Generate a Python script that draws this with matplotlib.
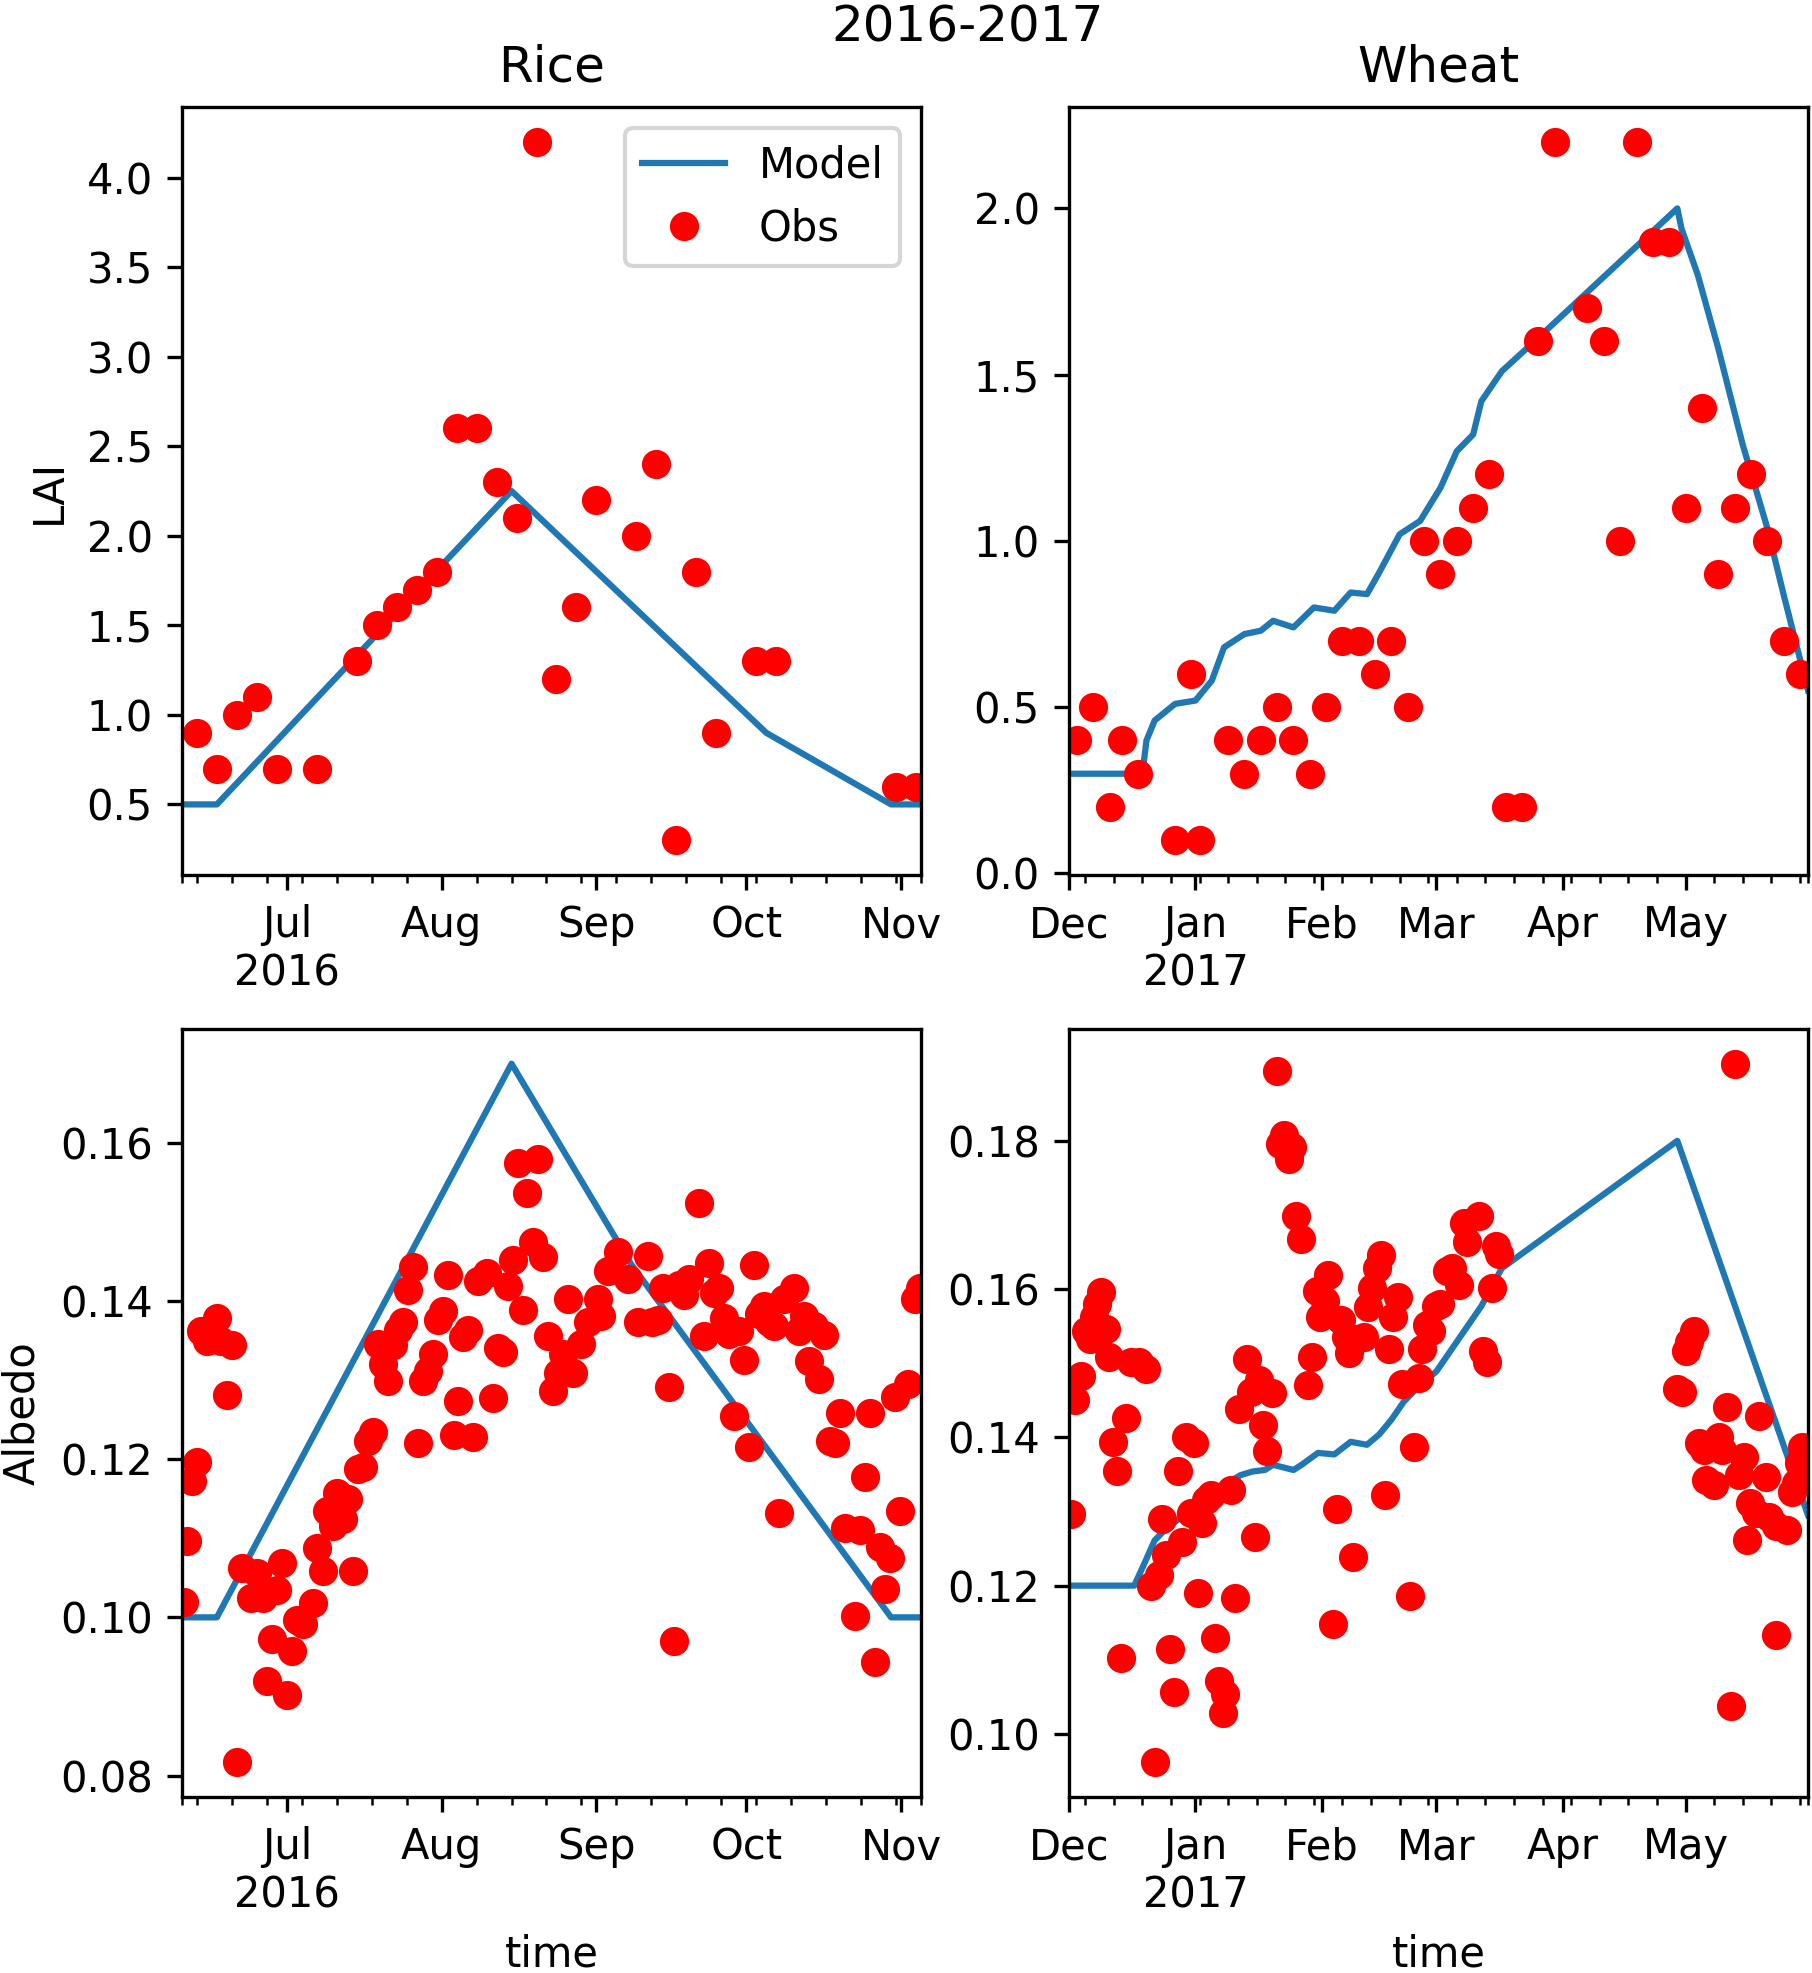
import pandas as pd
import matplotlib
matplotlib.use("Agg")
import matplotlib.pyplot as plt
import matplotlib.dates as mdates
from matplotlib.ticker import FixedLocator, FuncFormatter

# --- Rice season (2016) ---
rice_start, rice_end = "2016-06-10", "2016-11-05"

rice_lai_model_t = ["2016-06-10", "2016-06-17", "2016-08-15", "2016-10-05", "2016-10-30", "2016-11-05"]
rice_lai_model = [0.5, 0.5, 2.25, 0.9, 0.5, 0.5]

rice_lai_obs_t = ["2016-06-13", "2016-06-17", "2016-06-21", "2016-06-25", "2016-06-29", "2016-07-07",
                  "2016-07-15", "2016-07-19", "2016-07-23", "2016-07-27", "2016-07-31", "2016-08-04",
                  "2016-08-08", "2016-08-12", "2016-08-16", "2016-08-20", "2016-08-24", "2016-08-28",
                  "2016-09-01", "2016-09-09", "2016-09-13", "2016-09-17", "2016-09-21", "2016-09-25",
                  "2016-10-03", "2016-10-07", "2016-10-31", "2016-11-04"]
rice_lai_obs = [0.9, 0.7, 1.0, 1.1, 0.7, 0.7, 1.3, 1.5, 1.6, 1.7, 1.8, 2.6, 2.6, 2.3, 2.1, 4.2,
                1.2, 1.6, 2.2, 2.0, 2.4, 0.3, 1.8, 0.9, 1.3, 1.3, 0.6, 0.6]

rice_alb_model_t = ["2016-06-10", "2016-06-17", "2016-08-15", "2016-09-08", "2016-10-30", "2016-11-05"]
rice_alb_model = [0.100, 0.100, 0.170, 0.1446, 0.100, 0.100]

# albedo obs: days since rice_start
rice_alb_day = [0.4, 1.1, 2.0, 3.0, 3.8, 5.0, 7.0, 7.9, 9.0, 10.1, 11.0, 12.1, 13.9, 15.0, 16.2, 17.0,
                18.0, 19.1, 20.1, 21.1, 22.1, 23.1, 24.2, 26.2, 27.1, 28.2, 29.1, 30.2, 31.1, 32.2,
                33.2, 34.2, 35.2, 36.2, 37.2, 38.3, 39.2, 40.3, 41.2, 42.3, 43.2, 44.3, 45.2, 46.3,
                47.2, 48.3, 49.3, 50.3, 51.3, 52.3, 53.3, 54.4, 55.2, 56.2, 57.2, 58.2, 59.2, 61.1,
                62.2, 63.2, 64.2, 65.2, 66.2, 67.2, 68.3, 69.1, 70.3, 71.3, 72.3, 73.3, 74.3, 75.3,
                76.3, 77.3, 78.3, 80.0, 81.3, 83.4, 84.0, 85.4, 87.4, 89.4, 91.4, 93.4, 94.1, 95.4,
                96.4, 97.5, 98.5, 99.5, 100.5, 101.5, 103.5, 104.5, 105.5, 106.5, 107.5, 108.5, 109.5,
                110.5, 111.5, 112.5, 113.6, 114.6, 115.6, 116.6, 117.6, 118.6, 119.6, 120.6, 122.6,
                123.6, 124.6, 125.6, 126.6, 127.6, 128.6, 129.7, 130.7, 131.7, 132.7, 134.7, 135.7,
                136.7, 137.7, 138.7, 139.7, 140.7, 141.7, 142.7, 143.7, 145.4, 146.7, 147.7]
rice_alb_obs = [0.1019, 0.1097, 0.1172, 0.1196, 0.1362, 0.1349, 0.1379, 0.1349, 0.1281, 0.1344,
                0.0817, 0.1062, 0.1024, 0.1056, 0.1025, 0.0919, 0.0972, 0.1035, 0.1069, 0.0902,
                0.0957, 0.0997, 0.0991, 0.1018, 0.1088, 0.1059, 0.1134, 0.1116, 0.1157, 0.1124,
                0.1150, 0.1059, 0.1188, 0.1190, 0.1223, 0.1234, 0.1346, 0.1320, 0.1299, 0.1344,
                0.1363, 0.1374, 0.1414, 0.1443, 0.1220, 0.1299, 0.1312, 0.1333, 0.1376, 0.1387,
                0.1433, 0.1231, 0.1274, 0.1355, 0.1363, 0.1228, 0.1425, 0.1435, 0.1277, 0.1341,
                0.1335, 0.1419, 0.1452, 0.1575, 0.1388, 0.1537, 0.1475, 0.1579, 0.1456, 0.1356,
                0.1286, 0.1309, 0.1333, 0.1403, 0.1309, 0.1346, 0.1374, 0.1403, 0.1381, 0.1438,
                0.1462, 0.1428, 0.1374, 0.1457, 0.1374, 0.1376, 0.1416, 0.1291, 0.0970, 0.1420,
                0.1407, 0.1428, 0.1524, 0.1356, 0.1448, 0.1410, 0.1416, 0.1378, 0.1358, 0.1255,
                0.1362, 0.1325, 0.1216, 0.1446, 0.1383, 0.1394, 0.1374, 0.1368, 0.1132, 0.1403,
                0.1416, 0.1362, 0.1381, 0.1324, 0.1368, 0.1301, 0.1357, 0.1223, 0.1220, 0.1258,
                0.1113, 0.1002, 0.1110, 0.1178, 0.1258, 0.0944, 0.1089, 0.1036, 0.1075, 0.1279,
                0.1134, 0.1295, 0.1403, 0.1416]

# --- Wheat season (2016-2017) ---
wheat_start, wheat_end = "2016-12-01", "2017-05-31"

wheat_lai_model_t = ["2016-12-01", "2016-12-19", "2016-12-20", "2016-12-22", "2016-12-27", "2017-01-01",
                     "2017-01-05", "2017-01-08", "2017-01-13", "2017-01-17", "2017-01-20", "2017-01-25",
                     "2017-01-30", "2017-02-04", "2017-02-08", "2017-02-12", "2017-02-15", "2017-02-20",
                     "2017-02-25", "2017-03-02", "2017-03-06", "2017-03-10", "2017-03-12", "2017-03-17",
                     "2017-03-25", "2017-04-29", "2017-04-30", "2017-05-04", "2017-05-09", "2017-05-15",
                     "2017-05-21", "2017-05-25", "2017-05-31"]
wheat_lai_model = [0.30, 0.30, 0.40, 0.46, 0.51, 0.52, 0.58, 0.68, 0.72, 0.73, 0.76, 0.74, 0.80, 0.79,
                   0.845, 0.84, 0.905, 1.02, 1.06, 1.16, 1.27, 1.32, 1.42, 1.51, 1.60, 2.00, 1.94,
                   1.80, 1.58, 1.29, 1.04, 0.84, 0.55]

wheat_lai_obs_t = ["2016-12-03", "2016-12-07", "2016-12-11", "2016-12-14", "2016-12-18", "2016-12-27",
                   "2016-12-31", "2017-01-02", "2017-01-09", "2017-01-13", "2017-01-17", "2017-01-21",
                   "2017-01-25", "2017-01-29", "2017-02-02", "2017-02-06", "2017-02-10", "2017-02-14",
                   "2017-02-18", "2017-02-22", "2017-02-26", "2017-03-02", "2017-03-06", "2017-03-10",
                   "2017-03-14", "2017-03-18", "2017-03-22", "2017-03-26", "2017-03-30", "2017-04-07",
                   "2017-04-11", "2017-04-15", "2017-04-19", "2017-04-23", "2017-04-27", "2017-05-01",
                   "2017-05-05", "2017-05-09", "2017-05-13", "2017-05-17", "2017-05-21", "2017-05-25",
                   "2017-05-29"]
wheat_lai_obs = [0.4, 0.5, 0.2, 0.4, 0.3, 0.1, 0.6, 0.1, 0.4, 0.3, 0.4, 0.5, 0.4, 0.3, 0.5, 0.7, 0.7,
                 0.6, 0.7, 0.5, 1.0, 0.9, 1.0, 1.1, 1.2, 0.2, 0.2, 1.6, 2.2, 1.7, 1.6, 1.0, 2.2, 1.9,
                 1.9, 1.1, 1.4, 0.9, 1.1, 1.2, 1.0, 0.7, 0.6]

wheat_alb_model_t = ["2016-12-01", "2016-12-17", "2016-12-19", "2016-12-22", "2016-12-25", "2016-12-30",
                     "2017-01-04", "2017-01-09", "2017-01-12", "2017-01-15", "2017-01-18", "2017-01-20",
                     "2017-01-25", "2017-01-27", "2017-01-31", "2017-02-04", "2017-02-08", "2017-02-12",
                     "2017-02-15", "2017-02-18", "2017-02-21", "2017-02-24", "2017-03-01", "2017-03-12",
                     "2017-03-17", "2017-04-29", "2017-05-31"]
wheat_alb_model = [0.120, 0.120, 0.1224, 0.1261, 0.1278, 0.1298, 0.1326, 0.1339, 0.1349, 0.1354,
                   0.1356, 0.1363, 0.1356, 0.1363, 0.1379, 0.1377, 0.1394, 0.1390, 0.1404, 0.1424,
                   0.1448, 0.1465, 0.1489, 0.1577, 0.1628, 0.180, 0.1295]

# albedo obs: days since wheat_start
wheat_alb_day = [0.4, 1.6, 2.9, 4.1, 5.1, 6.1, 6.9, 7.9, 9.0, 9.8, 10.9, 11.8, 12.8, 13.9, 15.1, 17.1,
                 19.0, 20.0, 21.0, 22.0, 22.9, 23.9, 24.7, 25.7, 26.7, 27.8, 28.7, 29.8, 30.6, 31.6,
                 32.7, 33.7, 34.9, 35.8, 36.8, 37.8, 38.3, 39.8, 40.7, 41.6, 43.7, 44.7, 45.6, 46.5,
                 47.6, 48.6, 49.8, 50.9, 51.8, 52.8, 53.9, 54.7, 55.7, 56.9, 58.6, 59.6, 60.8, 61.6,
                 62.6, 63.5, 64.7, 65.7, 66.7, 67.8, 68.6, 69.6, 70.6, 72.2, 73.2, 74.3, 75.4, 76.5,
                 77.4, 78.4, 79.4, 80.6, 81.6, 83.5, 84.5, 85.7, 86.5, 87.6, 88.6, 89.8, 91.0, 92.7,
                 93.9, 95.5, 96.7, 97.6, 100.4, 101.4, 102.4, 103.5, 104.5, 105.3, 148.9, 150.2, 151.0,
                 151.8, 153.1, 154.3, 155.5, 155.9, 157.9, 159.2, 160.0, 161.2, 162.2, 163.2, 164.1,
                 165.3, 166.1, 166.9, 168.2, 169.0, 170.6, 171.4, 173.1, 173.2, 175.9, 177.2, 178.0,
                 178.8, 179.6]
wheat_alb_obs = [0.1297, 0.1451, 0.1483, 0.1543, 0.1533, 0.1563, 0.1580, 0.1596, 0.1546, 0.1509,
                 0.1394, 0.1354, 0.1102, 0.1426, 0.1502, 0.1502, 0.1492, 0.1200, 0.0962, 0.1214,
                 0.1290, 0.1241, 0.1115, 0.1057, 0.1354, 0.1259, 0.1400, 0.1298, 0.1392, 0.1190,
                 0.1284, 0.1315, 0.1322, 0.1129, 0.1071, 0.1028, 0.1054, 0.1329, 0.1183, 0.1438,
                 0.1506, 0.1461, 0.1265, 0.1478, 0.1417, 0.1381, 0.1460, 0.1894, 0.1796, 0.1808,
                 0.1776, 0.1791, 0.1698, 0.1667, 0.1470, 0.1508, 0.1597, 0.1562, 0.1584, 0.1619,
                 0.1148, 0.1304, 0.1558, 0.1536, 0.1514, 0.1239, 0.1533, 0.1535, 0.1576, 0.1601,
                 0.1628, 0.1646, 0.1322, 0.1519, 0.1562, 0.1590, 0.1472, 0.1186, 0.1387, 0.1480,
                 0.1519, 0.1551, 0.1543, 0.1577, 0.1580, 0.1624, 0.1628, 0.1605, 0.1689, 0.1664,
                 0.1699, 0.1516, 0.1502, 0.1601, 0.1658, 0.1648, 0.1465, 0.1461, 0.1516, 0.1529,
                 0.1543, 0.1392, 0.1383, 0.1343, 0.1336, 0.1400, 0.1383, 0.1441, 0.1037, 0.1904,
                 0.1349, 0.1373, 0.1261, 0.1312, 0.1298, 0.1429, 0.1346, 0.1292, 0.1281, 0.1133,
                 0.1275, 0.1326, 0.1339, 0.1366, 0.1387]


def to_dates(start, days):
    return pd.Timestamp(start) + pd.to_timedelta(days, unit="D")


def date_axis(ax, start, end, year_month):
    # months as major ticks, Mondays as minor ticks (plus both ends), pandas-like
    start, end = pd.Timestamp(start), pd.Timestamp(end)
    ax.set_xlim(start, end)
    ax.xaxis.set_major_locator(mdates.MonthLocator())
    minor = list(pd.date_range(start, end, freq="W-MON")) + [start, end]
    ax.xaxis.set_minor_locator(FixedLocator(mdates.date2num(minor)))

    def fmt(x, pos):
        d = mdates.num2date(x)
        if d.month == year_month:
            return d.strftime("%b\n%Y")
        return d.strftime("%b")
    ax.xaxis.set_major_formatter(FuncFormatter(fmt))
    ax.xaxis.set_minor_formatter(FuncFormatter(lambda x, pos: ""))


fig, axes = plt.subplots(2, 2, figsize=(1812 / 300, 1973 / 300), dpi=300)
fig.subplots_adjust(left=0.1004, right=0.9978, bottom=0.0892, top=0.9458,
                    wspace=0.2, hspace=0.2)
fig.suptitle("2016-2017", x=0.534, y=0.998, va="top")

ax = axes[0, 0]
ax.plot(pd.to_datetime(rice_lai_model_t), rice_lai_model, color="C0", label="Model")
ax.plot(pd.to_datetime(rice_lai_obs_t), rice_lai_obs, "ro", label="Obs")
ax.set_title("Rice")
ax.set_ylabel("LAI")
ax.legend(loc="upper right")
date_axis(ax, rice_start, rice_end, 7)

ax = axes[0, 1]
ax.plot(pd.to_datetime(wheat_lai_model_t), wheat_lai_model, color="C0")
ax.plot(pd.to_datetime(wheat_lai_obs_t), wheat_lai_obs, "ro")
ax.set_title("Wheat")
date_axis(ax, wheat_start, wheat_end, 1)

ax = axes[1, 0]
ax.plot(pd.to_datetime(rice_alb_model_t), rice_alb_model, color="C0")
ax.plot(to_dates(rice_start, rice_alb_day), rice_alb_obs, "ro")
ax.set_ylabel("Albedo")
ax.set_xlabel("time")
date_axis(ax, rice_start, rice_end, 7)

ax = axes[1, 1]
ax.plot(pd.to_datetime(wheat_alb_model_t), wheat_alb_model, color="C0")
ax.plot(to_dates(wheat_start, wheat_alb_day), wheat_alb_obs, "ro")
ax.set_xlabel("time")
date_axis(ax, wheat_start, wheat_end, 1)

for ax in axes.flat:
    ax.margins(x=0)
    ax.autoscale(axis="y")

fig.savefig("out.png", dpi=300)
